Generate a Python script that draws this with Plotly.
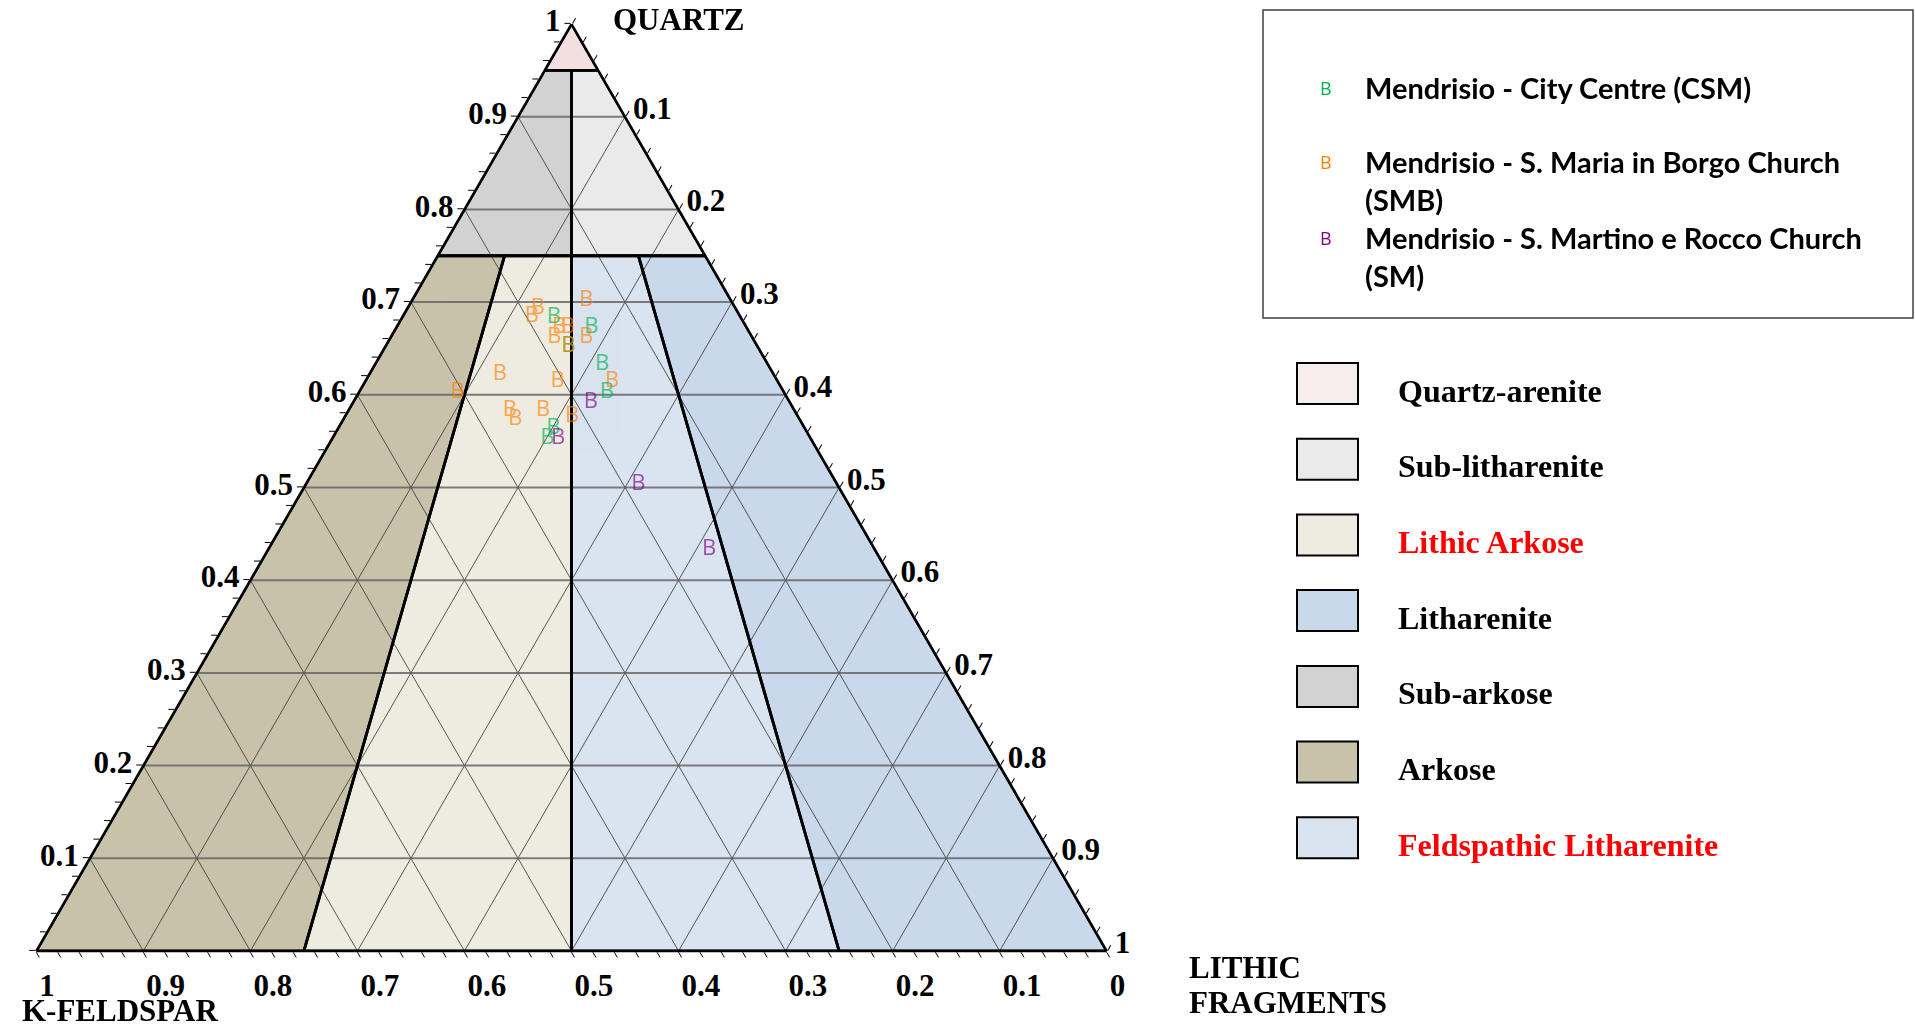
import plotly.graph_objects as go

# ---------------- data ----------------
AXIS_TITLE_Q = "QUARTZ"
AXIS_TITLE_F = "K-FELDSPAR"
AXIS_TITLE_L = ["LITHIC", "FRAGMENTS"]

MAJOR_TICKS = [0, 0.1, 0.2, 0.3, 0.4, 0.5, 0.6, 0.7, 0.8, 0.9, 1]
MAJOR_LABELS = ["0", "0.1", "0.2", "0.3", "0.4", "0.5", "0.6", "0.7", "0.8", "0.9", "1"]
GRID_LEVELS = [0.1, 0.2, 0.3, 0.4, 0.5, 0.6, 0.7, 0.8, 0.9]

REGION_NAMES = ["Quartz-arenite", "Sub-litharenite", "Lithic Arkose", "Litharenite",
                "Sub-arkose", "Arkose", "Feldspathic Litharenite"]
REGION_COLORS = ["#F6EEED", "#EAEAEA", "#EEECE1", "#C9D8EB", "#D2D2D2", "#C8C2AA", "#DAE3F0"]
REGION_FILL = ["#F2E0E0", "#EAEAEA", "#EEECE1", "#C9D8EB", "#D2D2D2", "#C8C2AA", "#DAE3F0"]
REGION_LABEL_COLORS = ["black", "black", "red", "black", "black", "black", "red"]
# polygon vertices (Quartz, K-Feldspar, Lithic fragments)
REGION_Q = [[1, 0.95, 0.95],
            [0.95, 0.95, 0.75, 0.75],
            [0.75, 0.75, 0, 0],
            [0.75, 0.75, 0, 0],
            [0.95, 0.95, 0.75, 0.75],
            [0.75, 0.75, 0, 0],
            [0.75, 0.75, 0, 0]]
REGION_F = [[0, 0.05, 0],
            [0.025, 0, 0, 0.125],
            [0.1875, 0.125, 0.5, 0.75],
            [0.0625, 0, 0, 0.25],
            [0.05, 0.025, 0.125, 0.25],
            [0.25, 0.1875, 0.75, 1],
            [0.125, 0.0625, 0.25, 0.5]]
REGION_L = [[0, 0, 0.05],
            [0.025, 0.05, 0.25, 0.125],
            [0.0625, 0.125, 0.5, 0.25],
            [0.1875, 0.25, 1, 0.75],
            [0, 0.025, 0.125, 0],
            [0, 0.0625, 0.25, 0],
            [0.125, 0.1875, 0.75, 0.5]]

SERIES_NAMES = ["Mendrisio - City Centre (CSM)",
                "Mendrisio - S. Maria in Borgo Church<br>(SMB)",
                "Mendrisio - S. Martino e Rocco Church<br>(SM)"]
SERIES_COLORS = ["#00B050", "#FF8000", "#800080"]

CSM_Q = [0.684, 0.673, 0.633, 0.603, 0.564, 0.553, 0.652]
CSM_F = [0.175, 0.145, 0.155, 0.166, 0.235, 0.246, 0.177]
CSM_L = [0.142, 0.182, 0.212, 0.232, 0.201, 0.201, 0.171]

SMB_Q = [0.702, 0.693, 0.684, 0.673, 0.673, 0.662, 0.662, 0.652, 0.622, 0.614, 0.614,
         0.583, 0.573, 0.583, 0.577, 0.603]
SMB_F = [0.135, 0.185, 0.195, 0.175, 0.167, 0.185, 0.155, 0.177, 0.256, 0.206, 0.155,
         0.266, 0.266, 0.235, 0.211, 0.305]
SMB_L = [0.163, 0.122, 0.121, 0.152, 0.160, 0.153, 0.183, 0.171, 0.122, 0.180, 0.231,
         0.151, 0.161, 0.182, 0.212, 0.092]

SM_Q = [0.592, 0.553, 0.503, 0.433]
SM_F = [0.186, 0.236, 0.186, 0.155]
SM_L = [0.222, 0.211, 0.311, 0.412]

# ---------------- figure ----------------
W, H = 1915, 1028
fig = go.Figure()

# region fills
for name, col, q, f, l in zip(REGION_NAMES, REGION_FILL, REGION_Q, REGION_F, REGION_L):
    fig.add_trace(go.Scatterternary(
        a=q + q[:1], b=f + f[:1], c=l + l[:1], mode="lines", fill="toself",
        fillcolor=col, line=dict(width=0, color=col), hoverinfo="skip", name=name))

# grid lines
def grid_family(kind):
    A, B, C = [], [], []
    for v in GRID_LEVELS:
        if kind == "a":
            A += [v, v, None]; B += [1 - v, 0, None]; C += [0, 1 - v, None]
        elif kind == "b":
            A += [1 - v, 0, None]; B += [v, v, None]; C += [0, 1 - v, None]
        else:
            A += [1 - v, 0, None]; B += [0, 1 - v, None]; C += [v, v, None]
    return A, B, C

for kind, col, wd in [("b", "rgba(50,50,50,0.8)", 1), ("c", "rgba(50,50,50,0.8)", 1),
                      ("a", "rgba(95,95,95,0.8)", 2)]:
    A, B, C = grid_family(kind)
    fig.add_trace(go.Scatterternary(a=A, b=B, c=C, mode="lines", connectgaps=False,
                                    line=dict(color=col, width=wd), hoverinfo="skip"))

# region outlines
for q, f, l in zip(REGION_Q, REGION_F, REGION_L):
    fig.add_trace(go.Scatterternary(a=q + q[:1], b=f + f[:1], c=l + l[:1], mode="lines",
                                    line=dict(color="black", width=2.8), hoverinfo="skip"))

# samples
for name, col, q, f, l in zip(SERIES_NAMES, SERIES_COLORS,
                              [CSM_Q, SMB_Q, SM_Q], [CSM_F, SMB_F, SM_F], [CSM_L, SMB_L, SM_L]):
    fig.add_trace(go.Scatterternary(a=q, b=f, c=l, mode="text", text=["B"] * len(q),
                                    textposition="middle center", opacity=0.66,
                                    textfont=dict(family="Open Sans", size=22, color=col),
                                    name=name))

tick_vals = [i / 50 for i in range(51)]
NB = "\u00a0"
def tick_text(skip_zero, shift_right=False):
    out = []
    for v in tick_vals:
        lab = ""
        for mv, ml in zip(MAJOR_TICKS, MAJOR_LABELS):
            if abs(v - mv) < 1e-9:
                lab = ml
        if skip_zero and abs(v) < 1e-9:
            lab = ""
        if shift_right and lab:
            lab = NB * (2 if len(lab) == 1 else 5) + lab
        out.append(lab)
    return out

tfont = dict(family="Liberation Serif", size=31, color="black", weight="bold")
def axis(skip_zero, shift_right=False):
    return dict(title=dict(text=""), min=0, linecolor="black", linewidth=2.5,
                showgrid=False, ticks="outside", ticklen=6, tickwidth=1, tickcolor="black",
                tickmode="array", tickvals=tick_vals,
                ticktext=tick_text(skip_zero, shift_right),
                tickfont=tfont, layer="above traces")

ytop, ybot = 24, 951
half_w = (ybot - ytop) / 3 ** 0.5
x0, x1 = 571.5 - half_w, 571.5 + half_w
fig.update_layout(
    width=W, height=H, margin=dict(l=0, r=0, t=0, b=0),
    paper_bgcolor="white", showlegend=False,
    ternary=dict(sum=1, bgcolor="white",
                 domain=dict(x=[x0 / W, x1 / W], y=[1 - ybot / H, 1 - ytop / H]),
                 aaxis=axis(True), baxis=axis(False, True), caxis=axis(True)))

def px(x):
    return x / W
def py(y):
    return 1 - y / H

title_font = dict(family="Liberation Serif", size=31, color="black", weight="bold")
ann = []
ann.append(dict(x=px(611), y=py(19), text=AXIS_TITLE_Q, xanchor="left", yanchor="middle"))
ann.append(dict(x=px(20), y=py(1010), text=AXIS_TITLE_F, xanchor="left", yanchor="middle"))
ann.append(dict(x=px(1187), y=py(967), text=AXIS_TITLE_L[0], xanchor="left", yanchor="middle"))
ann.append(dict(x=px(1187), y=py(1002), text=AXIS_TITLE_L[1], xanchor="left", yanchor="middle"))
for a in ann:
    a.update(xref="paper", yref="paper", showarrow=False, font=title_font)

# sample legend box
shapes = [dict(type="rect", xref="paper", yref="paper", x0=px(1263), x1=px(1913),
               y0=py(318), y1=py(10), line=dict(color="#404040", width=1.5))]
leg_font = dict(family="Lato", size=29, color="black", weight="bold")
row_y = [88, 162, 238]
for name, col, yy in zip(SERIES_NAMES, SERIES_COLORS, row_y):
    ann.append(dict(xref="paper", yref="paper", x=px(1326), y=py(yy), text="B",
                    showarrow=False, font=dict(family="Open Sans", size=18, color=col),
                    xanchor="center", yanchor="middle"))
    ann.append(dict(xref="paper", yref="paper", x=px(1363), y=py(yy), text=name,
                    showarrow=False, font=leg_font, xanchor="left", yanchor="top",
                    align="left", yshift=20))

# region legend
reg_y = [383.5, 459.2, 535, 610.6, 686.4, 762, 837.8]
reg_font = dict(family="Liberation Serif", size=32, weight="bold")
for name, col, lc, yy in zip(REGION_NAMES, REGION_COLORS, REGION_LABEL_COLORS, reg_y):
    shapes.append(dict(type="rect", xref="paper", yref="paper", x0=px(1297), x1=px(1358),
                       y0=py(yy + 20.5), y1=py(yy - 20.5), fillcolor=col,
                       line=dict(color="black", width=2)))
    ann.append(dict(xref="paper", yref="paper", x=px(1396), y=py(yy + 7), text=name,
                    showarrow=False, font=dict(reg_font, color=lc), xanchor="left",
                    yanchor="middle"))

fig.update_layout(annotations=ann, shapes=shapes)
fig.write_html("out.html", config={"displayModeBar": False},
               post_script="document.body.style.margin='0px';"
                           "document.body.style.overflow='hidden';")
